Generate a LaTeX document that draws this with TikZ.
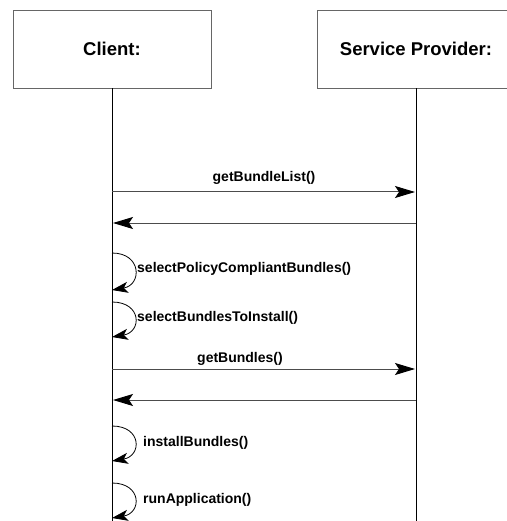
\documentclass[tikz,border=0pt]{standalone}
\usepackage{fontspec}
\setmainfont{Liberation Sans}
\usetikzlibrary{arrows.meta}
\begin{document}
\begin{tikzpicture}[x=1pt,y=-1pt]
		\tikzstyle{obj}=[draw=black!60,line width=0.8pt,minimum width=198pt,minimum height=78pt,font=\fontsize{18.5}{22}\selectfont\bfseries]
		\tikzstyle{msg}=[font=\fontsize{14}{17}\selectfont\bfseries,inner sep=0pt]
		\tikzstyle{call}=[draw=black!70,line width=1pt,>={Stealth[length=20pt,width=12pt,inset=4pt,black]},->]
		\tikzstyle{self}=[draw=black,line width=0.8pt,>={Stealth[length=16pt,width=11pt,inset=4pt]},->]
		\useasboundingbox (0,0) rectangle (506,521);
		\begin{scope}
		\node[obj] (client) at (112,49)  {Client:};
		\node[obj] (provider) at (416,49) {Service Provider:};
		\coordinate (clientend) at (112,521);
		\coordinate (providerend) at (416,521);
		\end{scope}
		
		% lifelines
		\draw[line width=0.8pt] (client) -- (clientend);
		\draw[line width=0.8pt] (provider) -- (providerend);
		
		% calls to the service provider
		\coordinate (c1) at (112,192);
		\coordinate (p1) at (415,192);
		\coordinate (c2) at (113,223);
		\coordinate (p2) at (416,223);
		\coordinate (c3) at (112,369);
		\coordinate (p3) at (415,369);
		\coordinate (c4) at (113,400);
		\coordinate (p4) at (416,400);
		\node[msg] (getlist) at (264,178) {getBundleList()};
		\node[msg] (getbundles) at (240,359) {getBundles()};
		\draw[call] (c1) -- (p1);
		\draw[call] (p2) -- (c2);
		\draw[call] (c3) -- (p3);
		\draw[call] (p4) -- (c4);
		
		% calls on itself
		\coordinate (a1) at (112,253);
		\coordinate (b1) at (112,290);
		\coordinate (a2) at (112,302);
		\coordinate (b2) at (112,337);
		\coordinate (a3) at (112,426);
		\coordinate (b3) at (112,461);
		\coordinate (a4) at (112,483);
		\coordinate (b4) at (112,518);
		\node[msg,anchor=west] (policy) at (137,269) {selectPolicyCompliantBundles()};
		\node[msg,anchor=west] (toinstall) at (137,318) {selectBundlesToInstall()};
		\node[msg,anchor=west] (install) at (143,443) {installBundles()};
		\node[msg,anchor=west] (run) at (143,500) {runApplication()};
		\draw[self] (a1) .. controls +(30,0) and +(30,-5) .. (b1);
		\draw[self] (a2) .. controls +(30,0) and +(30,-5) .. (b2);
		\draw[self] (a3) .. controls +(30,0) and +(30,-5) .. (b3);
		\draw[self] (a4) .. controls +(30,0) and +(30,-5) .. (b4);
\end{tikzpicture}
\end{document}
